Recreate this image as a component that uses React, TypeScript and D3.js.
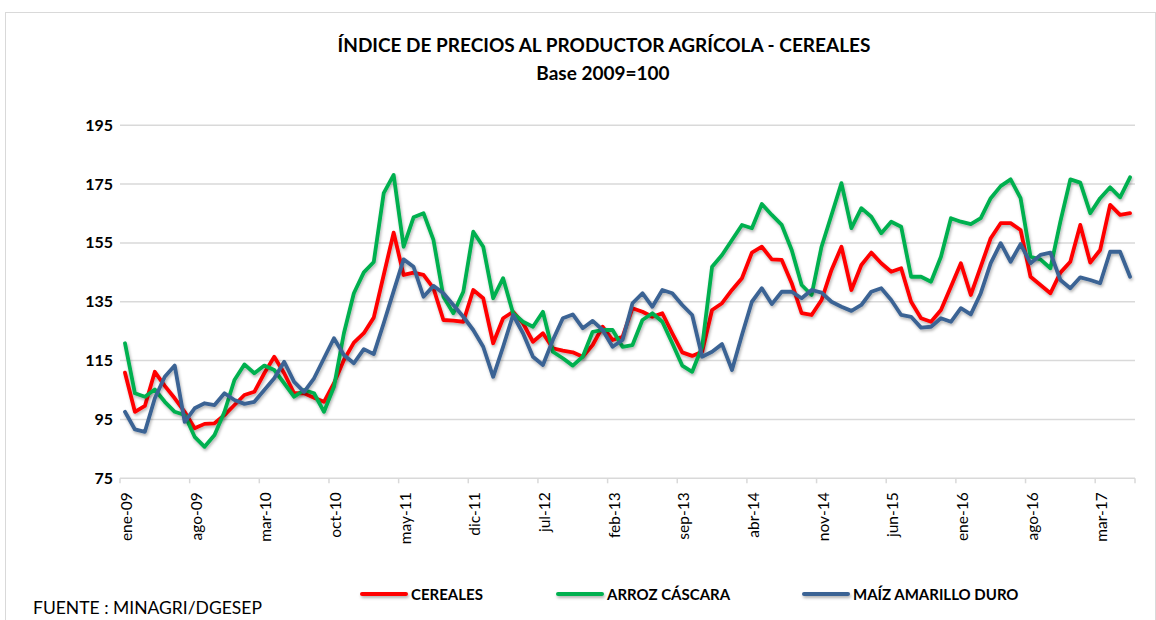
import React from "react";
import * as d3 from "d3";

const MONTHS = ["ene", "feb", "mar", "abr", "may", "jun", "jul", "ago", "sep", "oct", "nov", "dic"];
const YEARS = ["09", "10", "11", "12", "13", "14", "15", "16", "17"];
const categories: string[] = [];
YEARS.forEach((y) => MONTHS.forEach((m) => categories.push(`${m}-${y}`)));
categories.splice(102);

const cereales = [
  110.9, 97.6, 99.6, 111.2, 106.4, 102.2, 97.6, 92.0, 93.5, 93.7,
  96.5, 99.9, 103.3, 104.4, 110.7, 116.3, 110.7, 103.9, 103.9, 102.4,
  101.0, 107.3, 115.2, 121.1, 124.3, 129.6, 144.1, 158.5, 144.1, 144.9,
  144.1, 139.6, 128.8, 128.6, 128.2, 139.0, 136.2, 120.9, 129.4, 131.6,
  127.7, 121.4, 124.3, 119.2, 118.4, 117.8, 116.3, 120.3, 126.5, 122.0,
  123.1, 132.8, 131.6, 129.9, 131.1, 124.3, 117.8, 116.6, 118.0, 132.2,
  134.5, 139.0, 143.0, 151.7, 153.7, 149.4, 149.2, 141.3, 131.1, 130.5,
  135.6, 145.8, 153.7, 139.0, 147.5, 151.7, 148.1, 145.2, 146.4, 135.0,
  129.4, 128.2, 132.2, 140.1, 148.1, 137.3, 146.9, 156.6, 161.7, 161.7,
  159.4, 143.5, 140.7, 137.9, 144.9, 148.6, 161.1, 148.3, 152.6, 167.9,
  164.5, 165.1,
];

const arroz = [
  120.9, 103.9, 102.7, 105.2, 101.0, 97.6, 96.5, 89.1, 85.7, 89.7,
  97.6, 108.4, 113.7, 110.7, 113.3, 111.8, 107.3, 102.7, 105.0, 103.9,
  97.6, 106.1, 124.3, 137.9, 145.0, 148.5, 171.9, 178.1, 153.7, 163.7,
  165.1, 156.0, 136.7, 131.1, 138.4, 158.8, 153.7, 136.2, 143.0, 131.1,
  128.2, 126.5, 131.6, 118.0, 115.8, 113.3, 116.3, 124.8, 125.4, 125.4,
  119.7, 120.3, 128.8, 131.1, 128.2, 120.9, 113.3, 111.2, 119.7, 146.9,
  150.9, 156.0, 161.1, 160.0, 168.2, 164.5, 161.1, 152.6, 140.7, 137.3,
  153.7, 164.5, 175.3, 160.0, 166.8, 163.9, 158.3, 162.2, 160.5, 143.5,
  143.5, 141.8, 150.3, 163.4, 162.2, 161.4, 163.4, 170.2, 174.3, 176.6,
  170.2, 150.3, 149.4, 146.4, 162.2, 176.6, 175.5, 165.1, 170.2, 173.9,
  170.5, 177.3,
];

const maiz = [
  97.6, 91.6, 90.8, 102.2, 109.5, 113.3, 94.2, 98.8, 100.5, 99.9,
  103.9, 101.6, 100.3, 101.0, 105.0, 109.0, 114.6, 107.8, 104.4, 109.0,
  115.8, 122.6, 116.9, 114.1, 118.9, 117.2, 127.7, 138.6, 149.4, 146.9,
  136.7, 140.4, 137.9, 133.9, 129.9, 125.4, 119.7, 109.5, 119.7, 130.5,
  124.3, 116.3, 113.5, 122.0, 129.4, 130.7, 126.0, 128.5, 125.4, 119.7,
  122.0, 134.5, 137.9, 133.3, 139.0, 137.9, 133.9, 130.5, 116.3, 118.0,
  120.6, 111.8, 123.7, 135.0, 139.6, 134.2, 138.4, 138.4, 136.2, 139.0,
  138.1, 135.0, 133.3, 131.9, 133.9, 138.4, 139.6, 135.6, 130.5, 129.9,
  126.2, 126.5, 129.4, 128.2, 132.8, 130.7, 137.9, 148.1, 154.9, 148.6,
  154.6, 148.1, 150.9, 151.7, 142.4, 139.6, 143.3, 142.4, 141.3, 152.0,
  152.0, 143.5,
];

const yTicks = [75, 95, 115, 135, 155, 175, 195];

const seriesList = [
  { name: "CEREALES", values: cereales, color: "#FF0000" },
  { name: "ARROZ CÁSCARA", values: arroz, color: "#00B050" },
  { name: "MAÍZ AMARILLO DURO", values: maiz, color: "#3B6394" },
];

const legendX = [362, 558, 804];

const FONT = "Lato, 'Open Sans', sans-serif";

export default function App() {
  const W = 1156;
  const H = 620;
  const left = 120;
  const right = 1135;
  const top = 125.2;
  const bottom = 478.3;

  const x = d3.scaleBand<string>().domain(categories).range([left, right]).paddingInner(0).paddingOuter(0);
  const y = d3.scaleLinear().domain([75, 195]).range([bottom, top]);
  const cx = (c: string) => (x(c) as number) + x.bandwidth() / 2;

  const line = d3
    .line<number>()
    .x((_, i) => cx(categories[i]))
    .y((v) => y(v));

  const labelIdx = categories.map((_, i) => i).filter((i) => i % 7 === 0);

  return (
    <svg
      width={W}
      height={H}
      style={{ position: "absolute", left: 0, top: 0, display: "block", background: "#fff" }}
      fontFamily={FONT}
    >
      <defs>
        <filter id="shadow" filterUnits="userSpaceOnUse" x={0} y={0} width={W} height={H}>
          <feDropShadow dx="1" dy="2" stdDeviation="1.4" floodColor="#000" floodOpacity="0.3" />
        </filter>
      </defs>
      <rect x={5.5} y={12.5} width={1150} height={620} fill="#fff" stroke="#d9d9d9" strokeWidth={1} />

      <text x={604} y={52} textAnchor="middle" fontSize={19} fontWeight="bold" fill="#000">
        ÍNDICE DE PRECIOS AL PRODUCTOR AGRÍCOLA - CEREALES
      </text>
      <text x={603} y={80} textAnchor="middle" fontSize={19} fontWeight="bold" fill="#000">
        Base 2009=100
      </text>

      {yTicks.map((t) => (
        <g key={t}>
          <line x1={left} x2={right} y1={y(t)} y2={y(t)} stroke="#d9d9d9" strokeWidth={1.5} />
          <text x={113} y={y(t) + 5.5} textAnchor="end" fontSize={16} fontWeight="bold" fill="#000">
            {t}
          </text>
        </g>
      ))}

      {labelIdx.map((i) => {
        const bx = x(categories[i]) as number;
        return (
          <g key={i}>
            <line x1={bx} x2={bx} y1={bottom} y2={bottom + 5} stroke="#d9d9d9" strokeWidth={1.5} />
            <text
              transform={`translate(${cx(categories[i]) + 7},${bottom + 14}) rotate(-90)`}
              textAnchor="end"
              fontSize={15.5}
              fill="#000"
            >
              {categories[i]}
            </text>
          </g>
        );
      })}
      <line x1={right} x2={right} y1={bottom} y2={bottom + 5} stroke="#d9d9d9" strokeWidth={1.5} />

      {seriesList.map((s) => (
        <path
          key={s.name}
          d={line(s.values) || ""}
          fill="none"
          stroke={s.color}
          strokeWidth={3.8}
          strokeLinejoin="round"
          strokeLinecap="round"
          filter="url(#shadow)"
        />
      ))}

      {seriesList.map((s, k) => (
        <g key={s.name}>
          <line
            x1={legendX[k]}
            x2={legendX[k] + 44}
            y1={594}
            y2={594}
            stroke={s.color}
            strokeWidth={4}
            strokeLinecap="round"
            filter="url(#shadow)"
          />
          <text x={legendX[k] + 49} y={599.5} fontSize={15} fontWeight="bold" fill="#000">
            {s.name}
          </text>
        </g>
      ))}

      <text x={33} y={614} fontSize={17.5} fill="#000">
        FUENTE : MINAGRI/DGESEP
      </text>
    </svg>
  );
}
